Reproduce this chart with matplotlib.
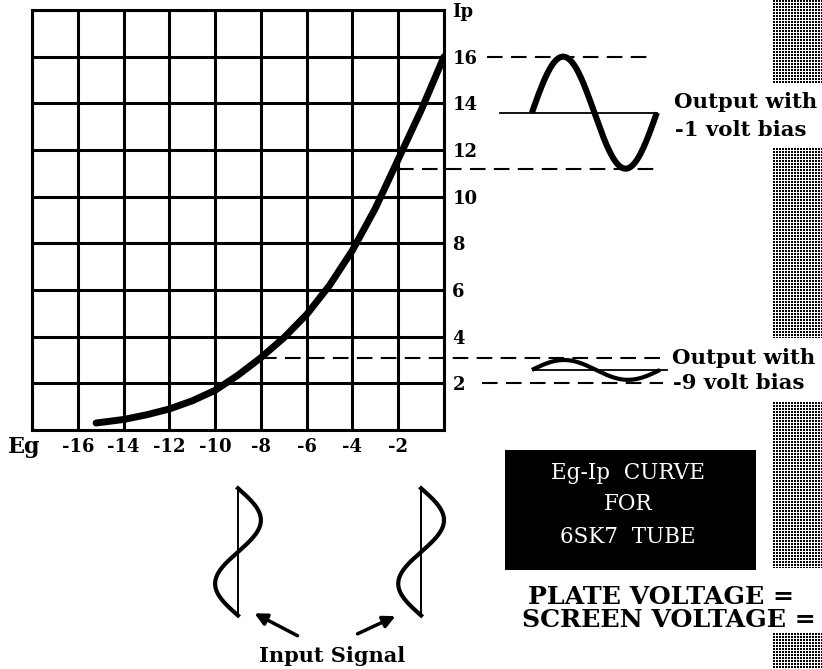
import numpy as np
import matplotlib
matplotlib.use("Agg")
import matplotlib.pyplot as plt
from matplotlib.patches import Rectangle

# Eg-Ip characteristic of the 6SK7 (grid volts vs. plate milliamps)
grid_volts = [-15.2, -14, -13, -12, -11, -10, -9, -8, -7, -6, -5, -4, -3, -2, -1, 0]
plate_ma = [0.3, 0.45, 0.65, 0.9, 1.25, 1.7, 2.35, 3.1, 3.95, 4.95, 6.2, 7.7, 9.5, 11.6, 13.7, 16.0]

x_ticks = [-18, -16, -14, -12, -10, -8, -6, -4, -2, 0]
x_tick_labels = ["", "-16", "-14", "-12", "-10", "-8", "-6", "-4", "-2", ""]
y_ticks = [0, 2, 4, 6, 8, 10, 12, 14, 16, 18]
y_tick_labels = ["", "2", "4", "6", "8", "10", "12", "14", "16", "Ip"]

# operating points: bias, and plate-current limits for a 1 V input swing
bias_volts = [-9, -1]
swing_volts = [1.0, 1.0]
level_high = [3.1, 16.0]      # dashed guide levels
level_low = [2.0, 11.2]
wave_high = [3.0, 16.0]       # drawn output wave extremes
wave_low = [2.15, 11.2]

SERIF = "DejaVu Serif"

fig = plt.figure(figsize=(8.22, 6.69), dpi=100)

# overlay in pixel units for the captions and decorations
ov = fig.add_axes([0, 0, 1, 1])
ov.set_xlim(0, 822)
ov.set_ylim(669, 0)
ov.axis("off")

ax = fig.add_axes([32 / 822, 239 / 669, 412 / 822, 420 / 669])
ax.set_facecolor("none")
ax.set_xlim(-18, 0)
ax.set_ylim(0, 18)
ax.set_xticks(x_ticks)
ax.set_xticklabels(x_tick_labels, fontfamily=SERIF, fontweight="bold", fontsize=13)
ax.set_yticks(y_ticks)
ax.set_yticklabels(y_tick_labels, fontfamily=SERIF, fontweight="bold", fontsize=13)
ax.yaxis.tick_right()
ax.tick_params(axis="x", length=0, pad=6)
ax.tick_params(axis="y", length=0, pad=6)
ax.grid(True, color="black", lw=2.2)
for sp in ax.spines.values():
    sp.set_linewidth(2.2)
    sp.set_color("black")

# characteristic curve
ax.plot(grid_volts, plate_ma, color="black", lw=5, solid_capstyle="round", zorder=5)

dash = (0, (7.5, 4))
# guide lines from the curve to the output sketches
ax.plot([-8, 9.43], [level_high[0]] * 2, ls=dash, lw=1.5, color="black", clip_on=False)
ax.plot([1.66, 9.57], [level_low[0]] * 2, ls=dash, lw=1.5, color="black", clip_on=False)
ax.plot([1.88, 9.13], [level_high[1]] * 2, ls=dash, lw=1.5, color="black", clip_on=False)
ax.plot([-2, 9.35], [level_low[1]] * 2, ls=dash, lw=1.5, color="black", clip_on=False)

# output waveforms
t = np.linspace(0, 1, 200)
out_start = [3.84, 3.84]
out_len = [5.6, 5.46]
base_span = [(3.89, 9.74), (2.44, 9.30)]
out_lw = [3.0, 4.4]
for i in range(2):
    mid = (wave_high[i] + wave_low[i]) / 2
    amp = (wave_high[i] - wave_low[i]) / 2
    ax.plot(base_span[i], [mid, mid], color="black", lw=1.3, clip_on=False)
    ax.plot(out_start[i] + out_len[i] * t, mid + amp * np.sin(2 * np.pi * t),
            color="black", lw=out_lw[i], clip_on=False, solid_capstyle="butt")

# input signals below the Eg axis
top_ip, bot_ip = -2.5, -7.95
y_in = np.linspace(top_ip, bot_ip, 200)
for b, s in zip(bias_volts, swing_volts):
    ax.plot([b, b], [top_ip, bot_ip], color="black", lw=1.4, clip_on=False)
    ax.plot(b + s * np.sin(2 * np.pi * (top_ip - y_in) / (top_ip - bot_ip)), y_in,
            color="black", lw=3.0, clip_on=False)

# captions
bold = dict(fontfamily=SERIF, fontweight="bold", color="black")
ov.text(24, 447, "Eg", fontsize=16, ha="center", va="center", **bold)
ov.text(674, 102, "Output with", fontsize=15.3, ha="left", va="center", **bold)
ov.text(675, 130, "-1 volt bias", fontsize=15.3, ha="left", va="center", **bold)
ov.text(672, 358, "Output with", fontsize=15.3, ha="left", va="center", **bold)
ov.text(673, 383, "-9 volt bias", fontsize=15.3, ha="left", va="center", **bold)
ov.text(332, 656, "Input Signal", fontsize=15, ha="center", va="center", **bold)
ov.text(528, 597, "PLATE VOLTAGE =", fontsize=18.2, ha="left", va="center", **bold)
ov.text(522, 620, "SCREEN VOLTAGE =", fontsize=18.2, ha="left", va="center", **bold)

ov.annotate("", xy=(252, 612), xytext=(300, 637),
            arrowprops=dict(arrowstyle="-|>", lw=2.5, color="black", mutation_scale=18))
ov.annotate("", xy=(398, 615), xytext=(355, 635),
            arrowprops=dict(arrowstyle="-|>", lw=2.5, color="black", mutation_scale=18))

# title block
ov.add_patch(Rectangle((505, 450), 251, 120, facecolor="black", edgecolor="none"))
for yy, line in zip([473, 504, 537], ["Eg-Ip  CURVE", "FOR", "6SK7  TUBE"]):
    ov.text(628, yy, line, fontsize=15.5, ha="center", va="center",
            fontfamily=SERIF, color="white")

# halftone strip along the right edge
def halftone(h, w):
    yy, xx = np.mgrid[0:h, 0:w]
    dots = ((yy % 3) != 2) & ((xx % 3) != 2)
    img = np.ones((h, w, 3))
    img[dots] = 0.0
    return img

for y0, y1 in [(0, 84), (148, 338), (402, 568), (633, 669)]:
    ov.imshow(halftone(y1 - y0, 49), extent=(773, 822, y1, y0),
              interpolation="nearest", aspect="auto", zorder=0)
ov.set_xlim(0, 822)
ov.set_ylim(669, 0)

fig.savefig("out.png", dpi=100)
